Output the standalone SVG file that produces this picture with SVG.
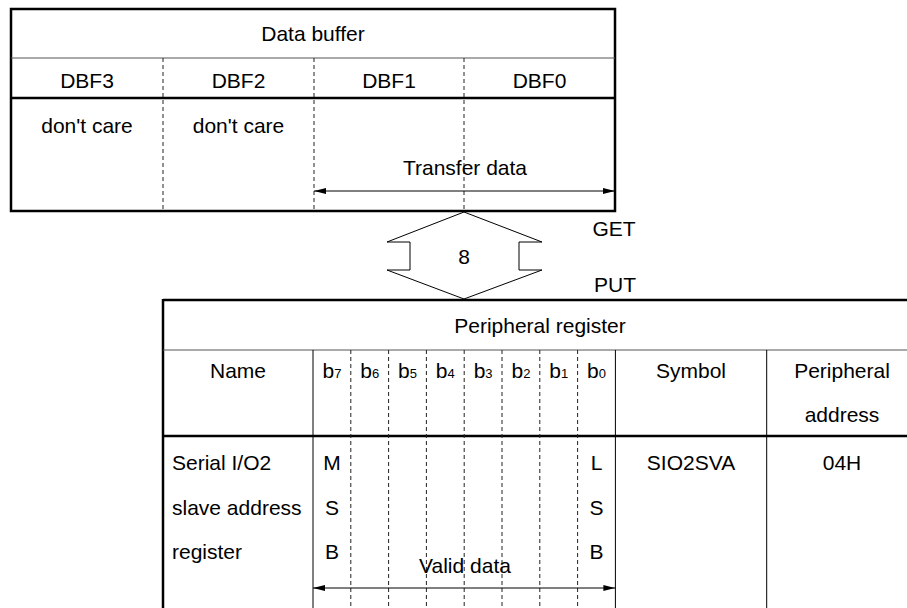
<svg xmlns="http://www.w3.org/2000/svg" width="907" height="608" viewBox="0 0 907 608">
<style>
text{font-family:"Liberation Sans",Arial,sans-serif;font-size:21px;fill:#000}
.c{text-anchor:middle}
.thick{stroke:#000;stroke-width:2.5;fill:none}
.thin{stroke:#000;stroke-width:1;fill:none}
.gray{stroke:#555;stroke-width:1;fill:none}
.dash{stroke:#222;stroke-width:1;stroke-dasharray:4 3;fill:none}
.sub{font-size:13px}
.arr{stroke:#000;stroke-width:1;fill:none;marker-start:url(#ah);marker-end:url(#ah)}
</style>
<defs>
<marker id="ah" viewBox="0 0 12 6" refX="12" refY="3" markerWidth="12" markerHeight="6" orient="auto-start-reverse" markerUnits="userSpaceOnUse"><path d="M0,0 L12,3 L0,6 z" fill="#000"/></marker>
</defs>
<rect width="907" height="608" fill="#fff"/>

<g id="data-buffer">
<rect x="11" y="9" width="604" height="202" class="thick" fill="#fff"/>
<line x1="11" y1="58" x2="615" y2="58" class="gray"/>
<line x1="11" y1="98" x2="615" y2="98" class="thick"/>
<line x1="163" y1="58" x2="163" y2="211" class="dash"/>
<line x1="314" y1="58" x2="314" y2="211" class="dash"/>
<line x1="464" y1="58" x2="464" y2="211" class="dash"/>
<text x="313" y="41" class="c">Data buffer</text>
<text x="87" y="88" class="c">DBF3</text>
<text x="238.5" y="88" class="c">DBF2</text>
<text x="389" y="88" class="c">DBF1</text>
<text x="539.5" y="88" class="c">DBF0</text>
<text x="87" y="133" class="c">don't care</text>
<text x="238.5" y="133" class="c">don't care</text>
<text x="465" y="175" class="c">Transfer data</text>
</g>

<g id="bus-arrow">
<polygon points="464,212 387,242 410,242 410,270 387,270 464,299 542,270 519,270 519,242 542,242" class="thin" fill="#fff"/>
<text x="464" y="264" class="c">8</text>
<text x="614" y="236" class="c">GET</text>
<text x="615" y="292" class="c">PUT</text>
</g>

<g id="peripheral-register">
<line x1="163" y1="300" x2="907" y2="300" class="thick"/>
<line x1="163" y1="299" x2="163" y2="608" class="thick"/>
<line x1="163" y1="350" x2="907" y2="350" class="gray"/>
<line x1="163" y1="436" x2="907" y2="436" class="thick"/>
<line x1="313" y1="350" x2="313" y2="608" class="thin"/>
<line x1="615.4" y1="350" x2="615.4" y2="608" class="thin"/>
<line x1="766.7" y1="350" x2="766.7" y2="608" class="thin"/>
<line x1="350.8" y1="350" x2="350.8" y2="608" class="dash"/>
<line x1="388.6" y1="350" x2="388.6" y2="608" class="dash"/>
<line x1="426.4" y1="350" x2="426.4" y2="608" class="dash"/>
<line x1="464.2" y1="350" x2="464.2" y2="608" class="dash"/>
<line x1="502" y1="350" x2="502" y2="608" class="dash"/>
<line x1="539.8" y1="350" x2="539.8" y2="608" class="dash"/>
<line x1="577.6" y1="350" x2="577.6" y2="608" class="dash"/>
<text x="540" y="333" class="c">Peripheral register</text>
<text x="238" y="378" class="c">Name</text>
<text x="331.9" y="378" class="c">b<tspan class="sub">7</tspan></text>
<text x="369.7" y="378" class="c">b<tspan class="sub">6</tspan></text>
<text x="407.5" y="378" class="c">b<tspan class="sub">5</tspan></text>
<text x="445.3" y="378" class="c">b<tspan class="sub">4</tspan></text>
<text x="483.1" y="378" class="c">b<tspan class="sub">3</tspan></text>
<text x="520.9" y="378" class="c">b<tspan class="sub">2</tspan></text>
<text x="558.7" y="378" class="c">b<tspan class="sub">1</tspan></text>
<text x="596.5" y="378" class="c">b<tspan class="sub">0</tspan></text>
<text x="691" y="378" class="c">Symbol</text>
<text x="842" y="378" class="c">Peripheral</text>
<text x="842" y="422" class="c">address</text>
<text x="172" y="470">Serial I/O2</text>
<text x="172" y="515">slave address</text>
<text x="172" y="559">register</text>
<text x="331.9" y="470" class="c">M</text>
<text x="331.9" y="515" class="c">S</text>
<text x="331.9" y="559" class="c">B</text>
<text x="596.5" y="470" class="c">L</text>
<text x="596.5" y="515" class="c">S</text>
<text x="596.5" y="559" class="c">B</text>
<text x="465" y="573" class="c">Valid data</text>
<text x="691" y="470" class="c">SIO2SVA</text>
<text x="842" y="470" class="c">04H</text>
</g>

<g id="connectors">
<line x1="314" y1="191" x2="615" y2="191" class="arr"/>
<line x1="313" y1="588" x2="615.4" y2="588" class="arr"/>
</g>
</svg>
